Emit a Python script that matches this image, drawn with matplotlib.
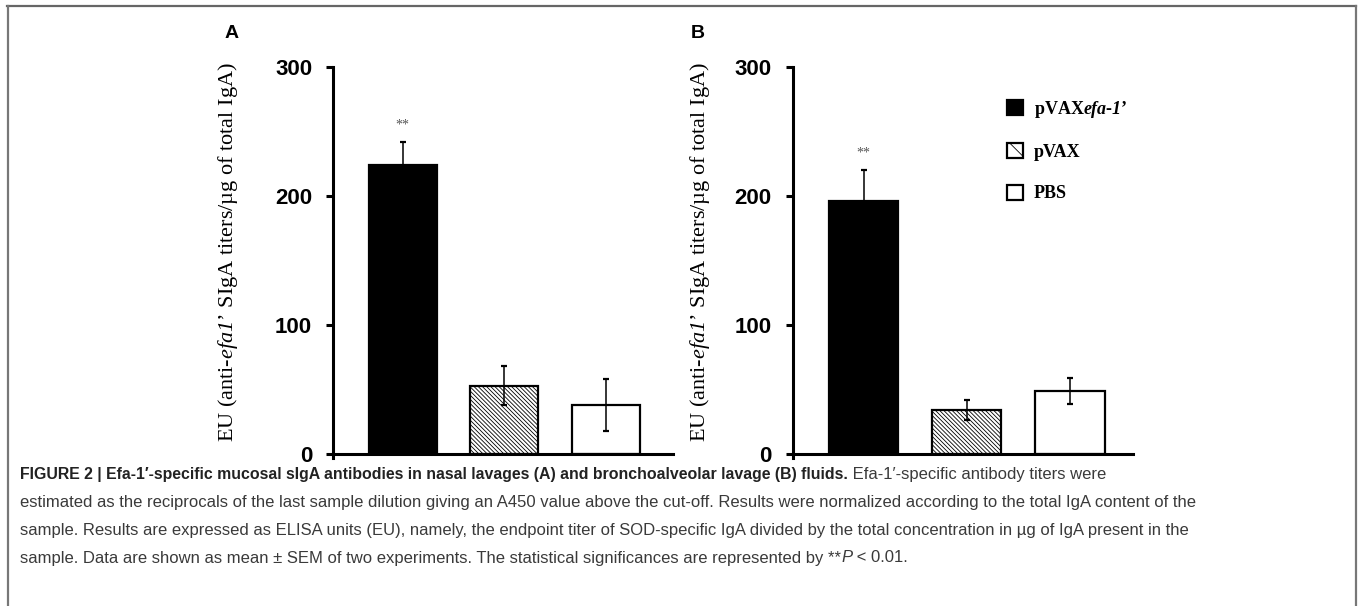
import matplotlib
matplotlib.use("Agg")
import matplotlib.pyplot as plt
from matplotlib.patches import Patch
from matplotlib.lines import Line2D

# ===================== DATA =====================
groups = ["pVAXefa-1'", "pVAX", "PBS"]
nasal_mean = [224, 53, 38]      # panel A
nasal_sem = [18, 15, 20]
balf_mean = [196, 34, 49]       # panel B
balf_sem = [24, 8, 10]
yticks = [0, 100, 200, 300]

# ===================== STYLE =====================
plt.rcParams['mathtext.fontset'] = 'custom'
plt.rcParams['mathtext.rm'] = 'Liberation Serif'
plt.rcParams['mathtext.it'] = 'Liberation Serif:italic'
plt.rcParams['mathtext.sf'] = 'Liberation Serif:italic'
plt.rcParams['mathtext.bf'] = 'Liberation Serif:bold:italic'
plt.rcParams['hatch.linewidth'] = 0.6

W, H = 1360, 606
fig = plt.figure(figsize=(W / 100, H / 100), dpi=100)

fills = ['black', 'white', 'white']
hatches = [None, '\\' * 8, None]
ylab = "EU (anti-$\\mathsf{efa1}$’ SIgA titers/µg of total IgA)"


def px_axes(left, right, top_px, bottom_px):
    return fig.add_axes([left / W, 1 - bottom_px / H, (right - left) / W, (bottom_px - top_px) / H])


def draw_panel(ax, means, sems, xlim, labx):
    x = range(len(means))
    for i in x:
        ax.bar(i, means[i], width=0.67, color=fills[i], edgecolor='black',
               linewidth=1.6, hatch=hatches[i], zorder=2)
    ax.errorbar(list(x), means, yerr=sems, fmt='none', ecolor='black',
                elinewidth=1.1, capsize=2.5, capthick=1.6, zorder=3)
    ax.text(0, means[0] + sems[0] + 8, '**', ha='center', va='bottom',
            fontsize=10, color='#555555', family='Liberation Serif')
    ax.set_xlim(*xlim)
    ax.set_ylim(-3, 300)
    ax.set_yticks(yticks)
    ax.set_yticklabels([str(t) for t in yticks], fontsize=16, fontweight='bold',
                       family='Liberation Sans')
    ax.set_xticks([])
    for s in ['top', 'right']:
        ax.spines[s].set_visible(False)
    ax.spines['bottom'].set_position(('data', 0))
    ax.spines['left'].set_linewidth(2.2)
    ax.spines['bottom'].set_linewidth(2.2)
    ax.tick_params(axis='y', direction='out', length=5, width=2.2, pad=10)
    ax.set_ylabel(ylab, family='Liberation Serif', fontsize=16)
    ax.yaxis.set_label_coords(labx, 0.526)
    ax.patch.set_alpha(0)


axA = px_axes(333, 673, 66.7, 457.9)
draw_panel(axA, nasal_mean, nasal_sem, (-0.685, 2.66), -0.274)
axB = px_axes(792.5, 1133, 66.7, 457.9)
draw_panel(axB, balf_mean, balf_sem, (-0.69, 2.61), -0.236)

fig.text(232 / W, 1 - 33 / H, 'A', fontsize=14, fontweight='bold', family='Liberation Sans',
         ha='center', va='center')
fig.text(698 / W, 1 - 33 / H, 'B', fontsize=14, fontweight='bold', family='Liberation Sans',
         ha='center', va='center')

# legend
handles = [Patch(facecolor=fills[i], edgecolor='black', linewidth=1.6,
                 hatch=('\\\\' if hatches[i] else None)) for i in range(3)]
leg_labels = ["pVAX$\\mathbf{efa}$-$\\mathbf{1}$’", "pVAX", "PBS"]
leg = fig.legend(handles, leg_labels, loc='upper left', bbox_to_anchor=(998 / W, 1 - 90 / H),
                 frameon=False, handlelength=0.9, handleheight=0.9, handletextpad=0.6,
                 labelspacing=1.3, borderpad=0,
                 prop={'family': 'Liberation Serif', 'weight': 'bold', 'size': 13})

# frame lines around the figure
fig.add_artist(Line2D([7 / W, 1356 / W], [1 - 6 / H, 1 - 6 / H], color='#666666', lw=1.6))
fig.add_artist(Line2D([7.5 / W, 7.5 / W], [0, 1 - 6 / H], color='#777777', lw=1.6))
fig.add_artist(Line2D([1356 / W, 1356 / W], [0, 1 - 6 / H], color='#777777', lw=1.6))

# caption
cap_size = 12.0
renderer = fig.canvas.get_renderer()


def caption_line(y_px, runs):
    x = 20
    for txt, style in runs:
        kw = dict(fontsize=cap_size, family='Liberation Sans', color='#3a3a3a', va='center')
        if style == 'b':
            kw.update(fontweight='bold', color='#222222', fontsize=11.4)
        elif style == 'i':
            kw.update(style='italic')
        t = fig.text(x / W, 1 - y_px / H, txt, **kw)
        x += t.get_window_extent(renderer).width


caption_line(475, [("FIGURE 2 | Efa-1′-specific mucosal sIgA antibodies in nasal lavages (A) and "
                    "bronchoalveolar lavage (B) fluids.", 'b'),
                   (" Efa-1′-specific antibody titers were", 'n')])
caption_line(503, [("estimated as the reciprocals of the last sample dilution giving an A450 value above "
                    "the cut-off. Results were normalized according to the total IgA content of the", 'n')])
caption_line(531, [("sample. Results are expressed as ELISA units (EU), namely, the endpoint titer of "
                    "SOD-specific IgA divided by the total concentration in µg of IgA present in the", 'n')])
caption_line(558, [("sample. Data are shown as mean ± SEM of two experiments. The statistical "
                    "significances are represented by **", 'n'), ("P", 'i'), (" < 0.01.", 'n')])

fig.savefig('out.png', dpi=100)
